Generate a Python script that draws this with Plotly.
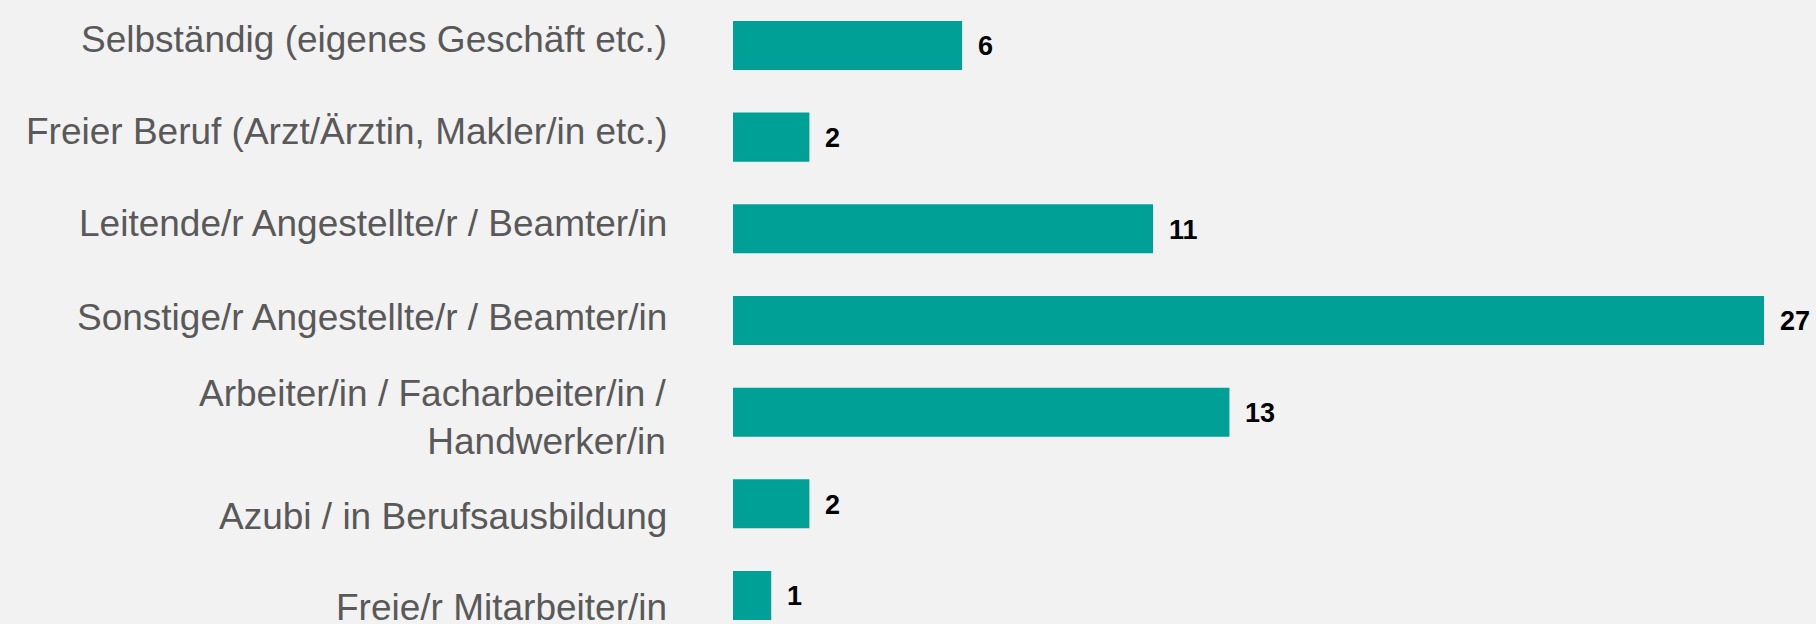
import plotly.graph_objects as go

categories = [
    "Selbständig (eigenes Geschäft etc.)",
    "Freier Beruf (Arzt/Ärztin, Makler/in etc.)",
    "Leitende/r Angestellte/r / Beamter/in",
    "Sonstige/r Angestellte/r / Beamter/in",
    "Arbeiter/in / Facharbeiter/in /<br>Handwerker/in",
    "Azubi / in Berufsausbildung",
    "Freie/r Mitarbeiter/in",
]
values = [6, 2, 11, 27, 13, 2, 1]

# small vertical nudges (px) of the category labels relative to their bars
label_shift = [6, 6, 5, 3, -5, -13, -12]

BG = "#f2f2f2"
BAR = "#00a096"
FONT = "Liberation Sans, Arial, sans-serif"

fig = go.Figure()
fig.add_trace(go.Bar(
    x=values, y=categories, orientation="h",
    marker=dict(color=BAR, line=dict(width=0)),
    width=0.535, hoverinfo="skip",
))

for c, v, s in zip(categories, values, label_shift):
    # value label
    fig.add_annotation(
        x=v, y=c, text=f"<b>{v}</b>", showarrow=False,
        xanchor="left", yanchor="middle", xshift=14, yshift=-1,
        font=dict(family=FONT, size=27, color="#000000"),
    )
    # category label
    fig.add_annotation(
        xref="paper", x=0, y=c, text=c, showarrow=False,
        xanchor="right", yanchor="middle", align="right",
        xshift=-64, yshift=s,
        font=dict(family=FONT, size=37, color="#595959"),
    )

fig.update_layout(
    width=1816, height=624,
    paper_bgcolor=BG, plot_bgcolor=BG,
    margin=dict(l=733, r=52, t=0, b=0),
    showlegend=False,
    xaxis=dict(range=[0, 27], visible=False, fixedrange=True),
    yaxis=dict(
        type="category", categoryorder="array", categoryarray=categories,
        range=[6.311, -0.496],
        showgrid=False, zeroline=False, showline=False, ticks="",
        showticklabels=False,
        fixedrange=True,
    ),
)

fig.write_html(
    "out.html",
    config={"displayModeBar": False},
    post_script="document.body.style.margin='0';document.body.style.background='#f2f2f2';document.body.style.overflow='hidden';",
)
